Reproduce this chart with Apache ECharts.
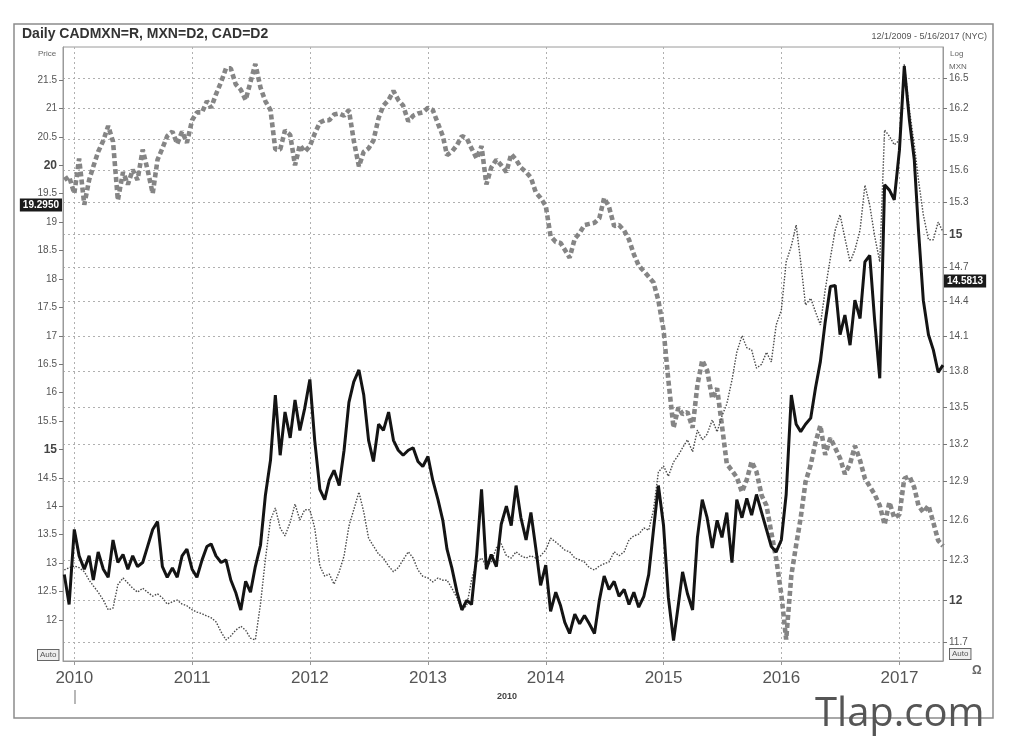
<!DOCTYPE html>
<html>
<head>
<meta charset="utf-8">
<script src="https://cdn.jsdelivr.net/npm/echarts@6/dist/echarts.min.js"></script>
<style>
  html, body { margin: 0; padding: 0; background: #fff; }
  #chart { width: 1018px; height: 750px; }
</style>
</head>
<body>
<div id="chart"></div>
<script>
// semi-monthly sample dates, Dec 2009 .. May 2017 (as timestamps)
const dates = []
for (let y = 2009; y <= 2017; y++) {
  for (let m = 0; m < 12; m++) {
    if (y === 2009 && m < 11) continue
    if (y === 2017 && m > 4) break
    dates.push(new Date(y, m, 1).getTime(), new Date(y, m, 16).getTime())
  }
}

// CADMXN=R (right, log axis)
const cadmxn = [
  12.19, 11.97,
  12.53, 12.33, 12.23, 12.33, 12.15, 12.36, 12.23, 12.17, 12.45, 12.28, 12.34, 12.23, 12.33, 12.25, 12.28, 12.40, 12.53, 12.59, 12.25, 12.17, 12.24, 12.17, 12.33, 12.38,
  12.23, 12.17, 12.30, 12.40, 12.42, 12.33, 12.28, 12.30, 12.15, 12.06, 11.93, 12.14, 12.06, 12.25, 12.41, 12.79, 13.07, 13.60, 13.11, 13.46, 13.25, 13.56, 13.31, 13.49,
  13.73, 13.23, 12.84, 12.76, 12.91, 12.99, 12.87, 13.15, 13.54, 13.71, 13.81, 13.60, 13.23, 13.06, 13.36, 13.31, 13.46, 13.23, 13.15, 13.11, 13.15, 13.17, 13.06, 13.02,
  13.10, 12.91, 12.76, 12.60, 12.38, 12.24, 12.06, 11.93, 12.00, 11.97, 12.34, 12.84, 12.23, 12.34, 12.25, 12.57, 12.71, 12.56, 12.87, 12.62, 12.45, 12.66, 12.39, 12.11,
  12.26, 11.92, 12.06, 11.96, 11.84, 11.76, 11.90, 11.83, 11.89, 11.83, 11.76, 12.00, 12.18, 12.08, 12.14, 12.03, 12.08, 11.97, 12.06, 11.95, 12.03, 12.19, 12.53, 12.87,
  12.56, 12.02, 11.71, 11.97, 12.21, 12.05, 11.93, 12.47, 12.76, 12.62, 12.39, 12.60, 12.47, 12.66, 12.28, 12.76, 12.62, 12.77, 12.64, 12.80, 12.66, 12.53, 12.40, 12.36,
  12.45, 12.80, 13.60, 13.36, 13.30, 13.36, 13.41, 13.66, 13.88, 14.22, 14.53, 14.54, 14.11, 14.28, 14.02, 14.41, 14.25, 14.75, 14.81, 14.24, 13.74, 15.46, 15.41, 15.32,
  15.79, 16.62, 16.08, 15.70, 15.04, 14.41, 14.11, 13.98, 13.79, 13.85
]

// MXN=D2 (left price axis)
const mxn = [
  12.88, 12.92,
  12.95, 12.92, 12.85, 12.70, 12.60, 12.49, 12.35, 12.18, 12.21, 12.62, 12.74, 12.65, 12.56, 12.49, 12.56, 12.49, 12.42, 12.46, 12.39, 12.28, 12.32, 12.35, 12.28, 12.25,
  12.18, 12.14, 12.11, 12.07, 12.04, 11.97, 11.79, 11.65, 11.72, 11.82, 11.89, 11.82, 11.68, 11.65, 12.28, 13.06, 13.76, 13.97, 13.62, 13.48, 13.72, 14.04, 13.76, 13.94,
  13.94, 13.62, 12.95, 12.77, 12.81, 12.63, 12.85, 13.13, 13.65, 13.94, 14.25, 13.90, 13.44, 13.30, 13.16, 13.09, 12.95, 12.85, 12.92, 13.06, 13.20, 13.09, 12.88, 12.77,
  12.74, 12.67, 12.74, 12.70, 12.70, 12.56, 12.39, 12.18, 12.25, 12.70, 13.02, 13.09, 12.95, 13.02, 13.27, 13.34, 13.13, 13.09, 13.20, 13.13, 13.09, 13.13, 13.09, 13.13,
  13.23, 13.44, 13.37, 13.30, 13.23, 13.20, 13.09, 13.06, 13.02, 12.92, 12.88, 12.95, 12.99, 13.02, 13.20, 13.13, 13.20, 13.41, 13.48, 13.51, 13.62, 13.58, 13.94, 14.60,
  14.71, 14.53, 14.78, 14.90, 15.03, 15.17, 14.96, 15.34, 15.17, 15.27, 15.52, 15.31, 15.59, 15.80, 16.22, 16.71, 17.00, 16.79, 16.75, 16.43, 16.50, 16.71, 16.54, 17.19,
  17.45, 18.30, 18.58, 18.95, 18.30, 17.54, 17.66, 17.42, 17.19, 17.81, 18.37, 18.86, 19.13, 18.72, 18.30, 18.51, 18.86, 19.65, 19.30, 18.76, 18.30, 20.62, 20.51, 20.36,
  20.44, 21.78, 20.97, 20.36, 19.74, 19.13, 18.69, 18.69, 19.00, 18.83
]

// CAD=D2 (own inverted scale, not shown)
const cad = [
  1.048, 1.045,
  1.060, 1.029, 1.070, 1.048, 1.036, 1.023, 1.013, 1.000, 1.014, 1.066, 1.041, 1.052, 1.039, 1.048, 1.021, 1.039, 1.060, 1.030, 1.020, 1.009, 1.005, 1.016, 1.005, 1.015,
  0.995, 0.988, 0.988, 0.978, 0.984, 0.972, 0.961, 0.949, 0.949, 0.963, 0.968, 0.977, 0.961, 0.945, 0.966, 0.978, 0.986, 1.021, 1.021, 1.004, 1.008, 1.035, 1.017, 1.023,
  1.018, 1.007, 0.997, 0.995, 0.995, 0.990, 0.989, 0.991, 0.986, 1.013, 1.036, 1.023, 1.020, 1.013, 0.993, 0.982, 0.977, 0.969, 0.977, 0.982, 0.996, 0.991, 0.989, 0.988,
  0.984, 0.986, 0.998, 1.009, 1.026, 1.023, 1.017, 1.009, 1.011, 1.020, 1.029, 1.018, 1.052, 1.037, 1.030, 1.035, 1.041, 1.025, 1.030, 1.037, 1.041, 1.046, 1.059, 1.064,
  1.071, 1.098, 1.103, 1.104, 1.110, 1.117, 1.100, 1.095, 1.088, 1.087, 1.086, 1.082, 1.064, 1.072, 1.089, 1.088, 1.093, 1.101, 1.114, 1.124, 1.129, 1.134, 1.139, 1.155,
  1.181, 1.226, 1.268, 1.250, 1.256, 1.254, 1.268, 1.230, 1.208, 1.217, 1.242, 1.233, 1.266, 1.300, 1.306, 1.312, 1.325, 1.314, 1.298, 1.307, 1.328, 1.337, 1.361, 1.384,
  1.416, 1.456, 1.399, 1.372, 1.348, 1.316, 1.301, 1.281, 1.266, 1.292, 1.277, 1.286, 1.295, 1.309, 1.300, 1.284, 1.297, 1.313, 1.320, 1.327, 1.337, 1.354, 1.334, 1.348,
  1.345, 1.313, 1.311, 1.321, 1.337, 1.343, 1.337, 1.352, 1.368, 1.373
]

const yearTicks = [2010, 2011, 2012, 2013, 2014, 2015, 2016, 2017].map(y => new Date(y, 0, 1).getTime())
const priceTicks = [12, 12.5, 13, 13.5, 14, 14.5, 15, 15.5, 16, 16.5, 17, 17.5, 18, 18.5, 19, 19.5, 20, 20.5, 21, 21.5]
const logTicks = [11.7, 12, 12.3, 12.6, 12.9, 13.2, 13.5, 13.8, 14.1, 14.4, 14.7, 15, 15.3, 15.6, 15.9, 16.2, 16.5]
const lastPrice = 19.2950
const lastLog = 14.5813

const font = 'Liberation Sans, Arial, sans-serif'
const chart = echarts.init(document.getElementById('chart'))

const tagLabel = {
  distance: 1,
  backgroundColor: '#1a1a1a', color: '#fff', padding: [2, 3, 1, 3],
  fontSize: 10, fontWeight: 'bold', opacity: 1
}

const option = {
  backgroundColor: '#fff',
  animation: false,
  textStyle: { fontFamily: font },
  grid: {
    left: 63, right: 75, top: 47, bottom: 89,
    show: true, borderColor: '#9a9a9a', borderWidth: 1
  },
  xAxis: {
    type: 'value',
    min: new Date(2009, 10, 27).getTime(),
    max: new Date(2017, 4, 16).getTime(),
    axisLine: { lineStyle: { color: '#9a9a9a' } },
    axisTick: { customValues: yearTicks, length: 4, lineStyle: { color: '#999' } },
    axisLabel: {
      customValues: yearTicks,
      formatter: v => String(new Date(v).getFullYear()),
      fontSize: 17, color: '#555', margin: 9
    },
    splitLine: { show: true, lineStyle: { color: '#b0b0b0', type: [2, 3] } }
  },
  yAxis: [
    {
      type: 'value',
      position: 'left',
      min: 11.279,
      max: 22.08,
      axisLine: { show: true, lineStyle: { color: '#9a9a9a' } },
      axisTick: { show: true, customValues: priceTicks, length: 4, lineStyle: { color: '#777' } },
      axisLabel: {
        customValues: priceTicks,
        margin: 6,
        formatter: v => {
          const r = Math.round(v * 10) / 10
          return (r === 15 || r === 20) ? '{b|' + r + '}' : String(r)
        },
        fontSize: 10, color: '#555',
        rich: { b: { fontSize: 12, fontWeight: 'bold', color: '#444' } }
      },
      splitLine: { show: false }
    },
    {
      type: 'log',
      logBase: 10,
      position: 'right',
      min: 11.5645,
      max: 16.815,
      axisLine: { show: true, lineStyle: { color: '#9a9a9a' } },
      axisTick: { show: true, customValues: logTicks, length: 4, lineStyle: { color: '#777' } },
      axisLabel: {
        customValues: logTicks,
        margin: 6,
        formatter: v => {
          const r = Math.round(v * 10) / 10
          return (r === 12 || r === 15) ? '{b|' + r + '}' : String(r)
        },
        fontSize: 10, color: '#555',
        rich: { b: { fontSize: 12, fontWeight: 'bold', color: '#444' } }
      },
      splitLine: { show: true, lineStyle: { color: '#b0b0b0', type: [2, 3] } }
    },
    {
      type: 'value',
      show: false,
      inverse: true,
      min: 0.93,
      max: 1.475,
      splitLine: { show: false }
    }
  ],
  series: [
    {
      name: 'CAD=D2',
      type: 'line',
      yAxisIndex: 2,
      showSymbol: false,
      z: 2,
      data: dates.map((d, i) => [d, cad[i]]),
      lineStyle: { color: '#858585', width: 4.6, type: [5, 3] }
    },
    {
      name: 'MXN=D2',
      type: 'line',
      yAxisIndex: 0,
      showSymbol: false,
      z: 3,
      data: dates.map((d, i) => [d, mxn[i]]),
      lineStyle: { color: '#4a4a4a', width: 1.4, type: [1.5, 1.5] },
      markLine: {
        silent: true,
        symbol: ['none', 'none'],
        lineStyle: { color: 'rgba(0,0,0,0)', width: 1 },
        label: Object.assign({ position: 'start', formatter: lastPrice.toFixed(4) }, tagLabel),
        data: [{ yAxis: lastPrice }]
      }
    },
    {
      name: 'CADMXN=R',
      type: 'line',
      yAxisIndex: 1,
      showSymbol: false,
      z: 4,
      data: dates.map((d, i) => [d, cadmxn[i]]),
      lineStyle: { color: '#141414', width: 3 },
      markLine: {
        silent: true,
        symbol: ['none', 'none'],
        lineStyle: { color: 'rgba(0,0,0,0)', width: 1 },
        label: Object.assign({ position: 'end', formatter: lastLog.toFixed(4) }, tagLabel),
        data: [{ yAxis: lastLog }]
      }
    }
  ],
  graphic: [
    { type: 'rect', shape: { x: 14, y: 24, width: 979, height: 694 }, style: { fill: 'none', stroke: '#8c8c8c', lineWidth: 1.5 }, silent: true },
    { type: 'text', left: 22, top: 27, style: { text: 'Daily CADMXN=R, MXN=D2, CAD=D2', font: 'bold 14px ' + font, fill: '#333' } },
    { type: 'text', right: 31, top: 32, style: { text: '12/1/2009 - 5/16/2017 (NYC)', font: '9px ' + font, fill: '#555' } },
    { type: 'text', left: 38, top: 50, style: { text: 'Price', font: '8px ' + font, fill: '#666' } },
    { type: 'text', left: 950, top: 50, style: { text: 'Log', font: '8px ' + font, fill: '#666' } },
    { type: 'text', left: 949, top: 63, style: { text: 'MXN', font: '8px ' + font, fill: '#666' } },
    { type: 'text', left: 37, top: 649, style: { text: 'Auto', font: '8px ' + font, fill: '#555', backgroundColor: '#eee', borderColor: '#666', borderWidth: 1, padding: [1, 2] } },
    { type: 'text', left: 949, top: 648, style: { text: 'Auto', font: '8px ' + font, fill: '#555', backgroundColor: '#eee', borderColor: '#666', borderWidth: 1, padding: [1, 2] } },
    { type: 'text', left: 497, top: 692, style: { text: '2010', font: 'bold 9px ' + font, fill: '#444' } },
    { type: 'line', shape: { x1: 75, y1: 690, x2: 75, y2: 704 }, style: { stroke: '#888', lineWidth: 1.2 } },
    { type: 'text', left: 972, top: 665, style: { text: 'Ω', font: 'bold 12px ' + font, fill: '#666' } },
    { type: 'text', left: 815, top: 695, style: { text: 'Tlap.com', font: '40px Open Sans, sans-serif', fill: '#555' } }
  ]
}

chart.setOption(option)
</script>
</body>
</html>
